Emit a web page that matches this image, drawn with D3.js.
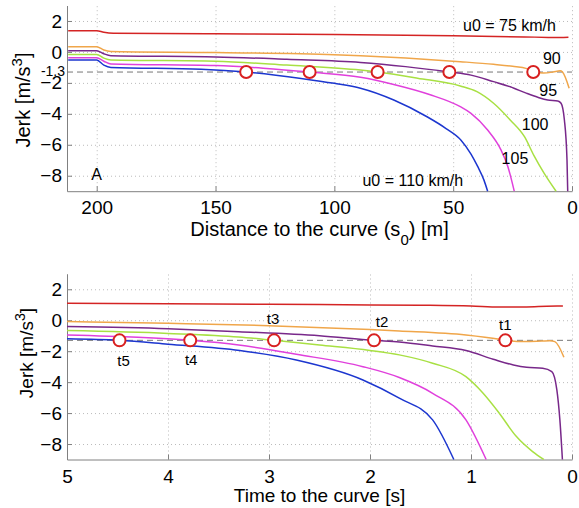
<!DOCTYPE html>
<html>
<head>
<meta charset="utf-8">
<script src="https://cdn.jsdelivr.net/npm/d3@7"></script>
<style>
body { margin: 0; background: #fff; }
svg { font-family: "Liberation Sans", Arial, Helvetica, sans-serif; }
.grid line { stroke: #bbb; stroke-dasharray: 1,3; }
.grid path { display: none; }
.axis path, .axis line { stroke: #808080; }
.axis text { fill: #000; }
</style>
</head>
<body>
<svg id="chart" width="579" height="508"></svg>
<script>
// jerk profiles approaching a curve, one line per initial speed u0

var speeds = [75, 90, 95, 100, 105, 110];
var colors = ['#d42424', '#f0a64a', '#78288a', '#a8e043', '#e040dc', '#1c36cf'];
var jerkLimit = -1.3;
var yTicks = [2, 0, -2, -4, -6, -8];
var distTicks = [200, 150, 100, 50, 0];
var timeTicks = [5, 4, 3, 2, 1, 0];

// top: [distance to curve s0 (m), jerk (m/s^3)]
var dist75 = [[212,1.37],[200,1.37],[197,1.27],[193,1.21],[150,1.17],[100,1.12],[50,1.04],[20,0.97],[10,0.94],[5,0.93],[1.5,0.95]];
var dist90 = [[212,0.34],[200,0.34],[197,0.12],[194,0.03],[150,-0.04],[100,-0.18],[89,-0.25],[70,-0.4],[47,-0.63],[33,-0.8],[25,-0.93],[19,-1.08],[16.3,-1.28],[12,-1.36],[8,-1.3],[5,-1.22],[4,-1.3],[1.2,-2.35]];
var dist95 = [[212,0.08],[200,0.08],[197,-0.12],[194,-0.24],[150,-0.32],[120,-0.48],[89,-0.68],[70,-0.95],[51.6,-1.3],[42.5,-1.5],[33,-1.92],[26,-2.25],[19,-2.68],[14.4,-2.93],[10.2,-3.11],[6,-3.17],[4.6,-3.32],[3.2,-4.4],[2.1,-7.0],[1.8,-9]];
var dist100 = [[212,-0.16],[200,-0.16],[197,-0.4],[194,-0.52],[150,-0.6],[120,-0.85],[89,-1.17],[81.8,-1.3],[65,-1.7],[47,-2.2],[40,-2.57],[33,-3.32],[26,-4.4],[20,-5.48],[16,-6.7],[11.7,-7.85],[6.7,-9]];
var dist105 = [[212,-0.37],[200,-0.37],[197,-0.6],[194,-0.78],[150,-0.88],[130,-1.05],[110.4,-1.3],[89,-1.64],[75,-2.1],[60,-2.75],[47,-3.54],[42.5,-3.97],[35.5,-5.05],[30,-6.3],[27,-7.4],[24.3,-9]];
var dist110 = [[212,-0.52],[200,-0.52],[197,-0.85],[194,-1.0],[156,-1.12],[137.1,-1.3],[114,-1.71],[100,-2.03],[89,-2.35],[75,-3.11],[61,-4.19],[53,-4.95],[46.7,-5.7],[42.5,-6.6],[39.7,-7.4],[37,-8.3],[35.5,-9]];

// bottom: [time to curve (s), jerk (m/s^3)]
var time75 = [[5,1.1],[4,1.07],[3,1.03],[2,0.99],[1.5,0.97],[1,0.92],[0.72,0.85],[0.45,0.86],[0.25,0.9],[0.09,0.92]];
var time90 = [[5,-0.09],[4,-0.2],[3,-0.35],[2,-0.6],[1.71,-0.69],[1.05,-0.95],[0.72,-1.23],[0.66,-1.3],[0.45,-1.38],[0.3,-1.35],[0.22,-1.32],[0.17,-1.38],[0.08,-2.39]];
var time95 = [[5,-0.41],[4,-0.55],[3.3,-0.74],[2.5,-1.0],[1.96,-1.3],[1.71,-1.4],[1.38,-1.66],[1.05,-1.96],[0.78,-2.52],[0.58,-2.89],[0.45,-3.04],[0.29,-3.1],[0.2,-3.32],[0.15,-4.5],[0.12,-6.44],[0.095,-9]];
var time100 = [[5,-0.67],[4,-0.85],[3.3,-1.08],[2.95,-1.3],[2.5,-1.6],[2,-1.95],[1.71,-2.24],[1.38,-2.78],[1.05,-3.65],[0.88,-4.72],[0.72,-6.01],[0.55,-7.52],[0.39,-8.49],[0.28,-9]];
var time105 = [[5,-0.95],[4.3,-1.1],[3.78,-1.3],[3.3,-1.6],[2.73,-2.2],[2.07,-3.0],[1.71,-3.7],[1.38,-4.72],[1.05,-6.44],[0.85,-9]];
var time110 = [[5,-1.2],[4.48,-1.3],[4,-1.55],[3.29,-1.96],[2.73,-2.57],[2.07,-3.86],[1.71,-5.04],[1.38,-6.44],[1.17,-9]];

// where each curve crosses the -1.3 limit
var distCross = [137.1, 110.4, 81.8, 51.6, 16.3];
var timeCross = [4.48, 3.78, 2.95, 1.96, 0.66];
var timeCrossLabels = ['t5', 't4', 't3', 't2', 't1'];

var svg = d3.select('#chart');
var fmt = d3.format('d');

function drawPanel(p){

    var x = d3.scaleLinear().domain(p.xDomain).range([67, 572]);
    var y = d3.scaleLinear().domain([-9, 3]).range([p.bottom, p.bottom - 185.7]);
    var g = svg.append('g');

    g.append('g')
        .attr('class', 'grid')
        .attr('transform', 'translate(0,' + p.bottom + ')')
        .call(d3.axisBottom(x).tickValues(p.xTicks).tickSize(-185.7).tickFormat(''));
    g.append('g')
        .attr('class', 'grid')
        .attr('transform', 'translate(67,0)')
        .call(d3.axisLeft(y).tickValues(yTicks).tickSize(-505).tickFormat(''));

    g.append('g')
        .attr('class', 'axis')
        .attr('transform', 'translate(0,' + p.bottom + ')')
        .call(d3.axisBottom(x).tickValues(p.xTicks).tickFormat(fmt).tickSizeInner(-5).tickSizeOuter(0).tickPadding(p.xPad))
        .attr('font-family', null)
        .selectAll('text').style('font-size', p.tickFont + 'px');
    g.append('g')
        .attr('class', 'axis')
        .attr('transform', 'translate(67,0)')
        .call(d3.axisLeft(y).tickValues(yTicks).tickFormat(fmt).tickSizeInner(-5).tickSizeOuter(0).tickPadding(5))
        .attr('font-family', null)
        .selectAll('text').style('font-size', p.tickFont + 'px');

    // -1.3 limit
    g.append('line')
        .attr('x1', x.range()[0])
        .attr('x2', x.range()[1])
        .attr('y1', y(jerkLimit))
        .attr('y2', y(jerkLimit))
        .attr('stroke', '#777')
        .attr('stroke-width', 1)
        .attr('stroke-dasharray', '6,4');

    var line = d3.line()
        .x(function(d){ return x(d[0]); })
        .y(function(d){ return y(d[1]); })
        .curve(d3.curveMonotoneX);

    g.selectAll('path.curve')
        .data(p.series)
        .enter()
        .append('path')
        .attr('class', 'curve')
        .attr('d', line)
        .attr('fill', 'none')
        .attr('stroke', function(d, i){ return colors[i]; })
        .attr('stroke-width', 1.5);

    g.selectAll('circle.cross')
        .data(p.cross)
        .enter()
        .append('circle')
        .attr('class', 'cross')
        .attr('cx', function(d){ return x(d); })
        .attr('cy', y(jerkLimit))
        .attr('r', 6)
        .attr('fill', '#fff')
        .attr('stroke', '#d82020')
        .attr('stroke-width', 2);

    var ylab = g.append('text')
        .attr('transform', 'translate(' + p.ylabX + ',' + p.ylabY + ') rotate(-90)')
        .attr('text-anchor', 'middle')
        .style('font-size', p.titleFont + 'px');
    ylab.append('tspan').text('Jerk [m/s');
    ylab.append('tspan').attr('baseline-shift', 'super').style('font-size', (p.titleFont * 0.75) + 'px').text('3');
    ylab.append('tspan').text(']');

    return { g: g, x: x, y: y };
}

// ---- top panel
var topP = drawPanel({
    xDomain: [212.5, 0],
    xTicks: distTicks,
    bottom: 191.2,
    series: [dist75, dist90, dist95, dist100, dist105, dist110],
    cross: distCross,
    tickFont: 19,
    xPad: 9,
    titleFont: 20,
    ylabX: 30,
    ylabY: 100
});

var xt = topP.g.append('text')
    .attr('x', 319.5)
    .attr('y', 235.5)
    .attr('text-anchor', 'middle')
    .style('font-size', '20px');
xt.append('tspan').text('Distance to the curve (s');
xt.append('tspan').attr('baseline-shift', 'sub').style('font-size', '15px').text('0');
xt.append('tspan').text(') [m]');

topP.g.append('text')
    .attr('x', 65)
    .attr('y', topP.y(jerkLimit))
    .attr('dy', '0.3em')
    .attr('text-anchor', 'end')
    .style('font-size', '14px')
    .text('-1.3');

var topNotes = [
    ['u0 = 75 km/h', 26.3, 1.74],
    ['90', 8.5, -0.41],
    ['95', 10, -2.51],
    ['100', 15.5, -4.66],
    ['105', 24, -6.88],
    ['u0 = 110 km/h', 67, -8.28],
    ['A', 200, -7.9]
];
topP.g.selectAll('text.note')
    .data(topNotes)
    .enter()
    .append('text')
    .attr('class', 'note')
    .attr('x', function(d){ return topP.x(d[1]); })
    .attr('y', function(d){ return topP.y(d[2]); })
    .attr('dy', '0.35em')
    .attr('text-anchor', 'middle')
    .style('font-size', '16px')
    .text(function(d){ return d[0]; });

// ---- bottom panel
var botP = drawPanel({
    xDomain: [5, 0],
    xTicks: timeTicks,
    bottom: 459.5,
    series: [time75, time90, time95, time100, time105, time110],
    cross: timeCross,
    tickFont: 19,
    xPad: 10,
    titleFont: 19,
    ylabX: 33,
    ylabY: 353
});

botP.g.append('text')
    .attr('x', 319.5)
    .attr('y', 502)
    .attr('text-anchor', 'middle')
    .style('font-size', '19px')
    .text('Time to the curve [s]');

// label nudges for t5..t1 (px)
var tlabDx = [4, 1, -1, 8, 0];
var tlabDy = [20, 19, -22, -19, -16];

botP.g.selectAll('text.tlab')
    .data(timeCross)
    .enter()
    .append('text')
    .attr('class', 'tlab')
    .attr('x', function(d, i){ return botP.x(d) + tlabDx[i]; })
    .attr('y', function(d, i){ return botP.y(jerkLimit) + tlabDy[i]; })
    .attr('dy', '0.35em')
    .attr('text-anchor', 'middle')
    .style('font-size', '15px')
    .text(function(d, i){ return timeCrossLabels[i]; });
</script>
</body>
</html>
